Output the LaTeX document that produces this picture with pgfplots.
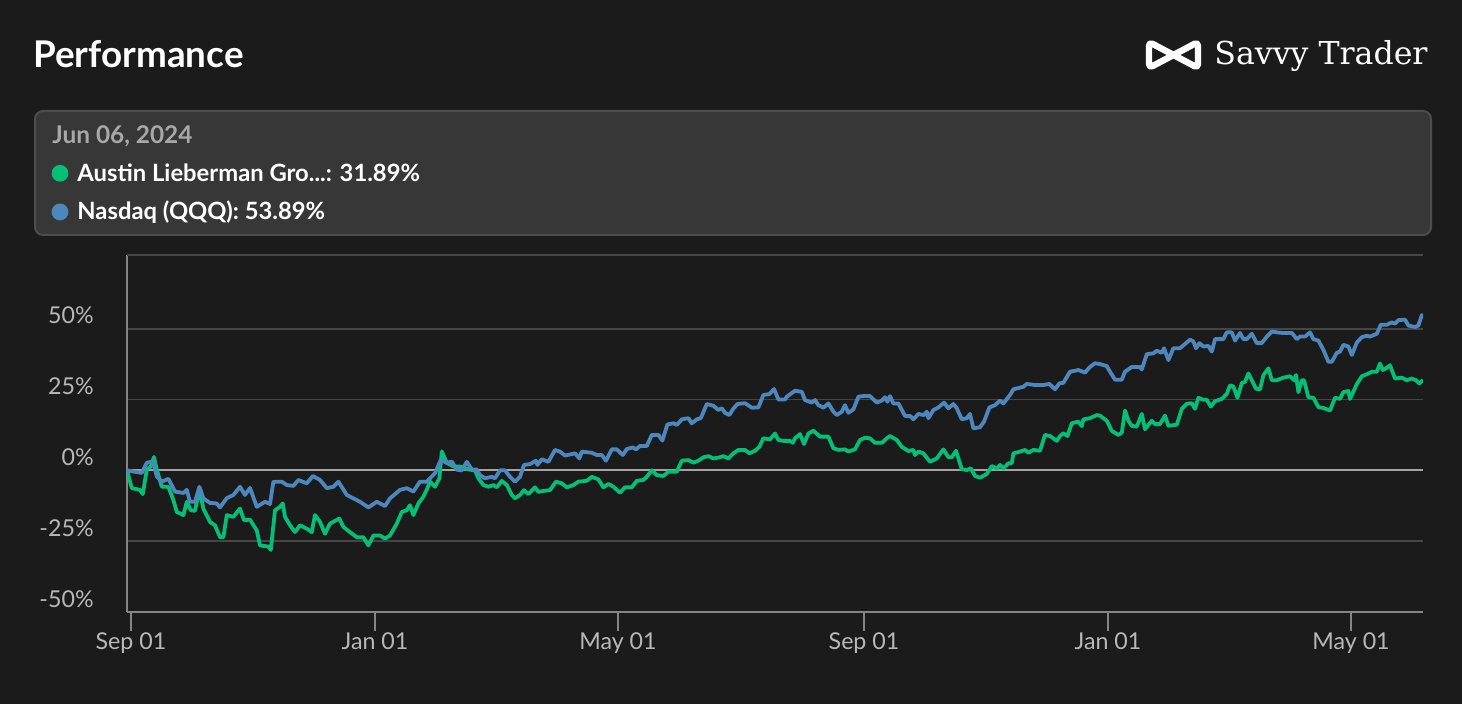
\documentclass[border=0pt]{standalone}
\usepackage{fontspec}
\setmainfont{Lato}
\newfontfamily\logofont{DejaVu Serif}
\usepackage{pgfplots}
\usepackage{pgfplotstable}
\pgfplotsset{compat=1.18}
\definecolor{bg}{HTML}{1B1B1B}
\definecolor{boxfill}{HTML}{373737}
\definecolor{boxline}{HTML}{4D4D4D}
\definecolor{gridc}{HTML}{464646}
\definecolor{zeroc}{HTML}{A3A3A3}
\definecolor{axisc}{HTML}{858585}
\definecolor{tickc}{HTML}{B8B8B8}
\definecolor{datec}{HTML}{A8A8A8}
\definecolor{greenc}{HTML}{05BE78}
\definecolor{bluec}{HTML}{4C88BE}

\pgfplotstableread{
x y
-2 0
0.4 -6.3
4.5 -6.9
5.9 -8.4
7.9 0.2
9.9 1.4
11.5 4.7
12.9 0.2
15.4 -5.8
18.7 -5.8
21.2 -10.5
22.9 -14.7
26.2 -15.8
27.9 -11.1
29.9 -14.1
32 -14.3
34.2 -6.9
36.2 -13.5
39.5 -18.2
42 -19.4
44.5 -23.6
46.2 -23.6
47.9 -15.8
51.2 -16.4
54.5 -13.5
56.5 -17.6
59.5 -17.4
62.9 -21.2
64.5 -26.5
68.7 -26.9
69.9 -28.1
72 -14.1
74.5 -12.9
75.9 -11.7
77 -16.4
79.5 -19.4
82 -21.8
84.5 -19.4
87.9 -20.6
90.4 -21.8
92 -15.8
94.5 -18.2
97 -22.4
99.5 -18.8
104.2 -17.0
106.2 -20.0
109.5 -21.8
112.9 -23.6
116.2 -23.6
118.7 -26.5
121.2 -23.0
124.5 -23.0
127 -24.1
129.5 -23.0
132.9 -18.8
135.4 -14.7
137.9 -14.1
139.5 -12.3
141.2 -15.8
143.7 -11.7
146.2 -9.3
147.9 -6.9
149.5 -4.0
152 -5.8
154.2 -2.8
155.4 6.7
157.9 2.6
161.2 1.4
164.5 1.3
168.7 0.3
172 0
173.7 -2.8
176.2 -5.2
178.7 -5.8
181.2 -5.2
182.9 -6
185.4 -3.7
187.9 -5.2
190.4 -8.7
192 -9.9
194.5 -8.7
196.5 -7
198.7 -8.4
202 -6
203.7 -7.6
207 -7.2
209.5 -7
212.5 -4
215.4 -4.6
217.9 -6
221.2 -5.2
223.7 -4
227.9 -3.7
230.4 -2.3
233.7 -3.2
236.2 -6
238.7 -4.8
241.2 -5.8
244.5 -7.9
247 -6
250.4 -6
252.9 -3.7
256.2 -3.4
257.9 -2.3
260.4 0
262.9 -1.7
266.2 -2
268.7 -0.5
272.9 -0.5
275.4 3.4
278.7 3.6
281.2 2.7
283.7 3.4
286.2 4.6
288.7 5
291.2 4.2
294.5 4.6
296.2 5
298.7 4.2
301.2 6
303.7 7.2
307 7.2
309.2 6
312 6.9
314.2 8.3
316.2 11.3
319.5 10.9
322 13
323.7 10.7
326.2 10.4
329.5 10.4
330.9 9.7
332 11.3
334.5 12.8
336.5 9.3
338.7 13
341.2 14
344.5 11.9
348.7 11.9
351.2 7.8
353.7 7.2
357 7.4
358.7 6.6
362 7.4
364.5 10.7
367 11.5
369.5 11.3
372 9.7
375.4 9.7
377.9 11.3
379.5 12.1
382.9 10.7
385.4 8.3
388.7 6.8
391.2 7.2
392 5.4
393.7 6.6
396.2 6
399.5 3
402.9 4.2
406.2 7.4
408.7 4.6
410.4 4.6
412.5 6.9
415.4 0.4
417.9 0.1
419.9 0.7
422 -2
424.5 -2.6
427.9 -1.3
430.4 1.5
432.9 0.7
434.5 1.9
436.2 0.7
438.7 2.5
440.4 2.5
441.2 6
444.5 6.6
447 7.2
448.7 6.2
451.2 7.2
454.5 6.9
457 12.5
459.5 12.1
462.9 10.4
464.5 12.1
466.2 13.1
468.2 12.1
470.4 16.6
473.7 17.2
475.4 15.6
476.2 18
479.5 18.4
482.9 19.5
484.5 19.3
487.9 17.5
490.4 13.9
493.7 12.5
495.4 13.3
497 21.1
498.7 17.5
500.4 15.7
502.9 15.4
505.4 19.9
507 14.5
510.4 17.5
512 16.3
514.5 16.3
517 19.3
518.7 15.7
522.9 16.1
525.4 21.7
527.9 23.5
530.4 23.7
532 21.7
533.7 25.6
536.2 24.9
537.9 24.9
539.9 22.5
542 24.4
545.4 25.2
547.9 27
549.5 30
551.2 29.6
553.2 25.6
555.4 30.8
557 31.2
558.7 34.2
560.4 31.8
562.5 28.8
564.5 28.5
566.2 33.6
568.7 36
570.4 31.8
572.9 31.8
576.2 32.7
579.5 33.2
581.5 31.8
582.5 33.6
583.7 27.6
585.4 31.8
586.5 31.8
588.7 25.8
591.2 25.6
593.7 22.3
596.2 22
599.5 21.1
602 25.6
604.5 25.2
606.2 27.6
608.7 28
609.5 25.2
612.9 30.4
615.4 33.2
617.9 33.9
620.4 34.8
622.9 34.8
624.5 37.7
625.9 35.4
627.5 36
629.5 37.1
632 32.4
635.4 32.7
637.9 31.8
640.4 32.4
642.5 31.8
644.2 30.6
646 31.89
}\greendata

\pgfplotstableread{
x y
-2 0
1 -0.4
5.4 -0.9
7.9 2.7
11 3.1
12.9 -2.2
15.4 -4.0
18.7 -3.0
22 -7.5
26.2 -8.0
27.9 -6.9
29.5 -11.1
32 -11.1
34.2 -5.8
36.2 -9.9
39.5 -11.5
42.9 -11.7
44.5 -13.1
47.9 -9.8
51.2 -8.7
54.5 -5.8
57 -8.7
59.5 -6.2
62.9 -12.9
67 -11.1
69.5 -11.9
71.2 -4.0
75.4 -4.0
77.9 -5.2
81.2 -5.5
83.7 -3.4
87.9 -4.6
90.9 -2.0
94.5 -3.4
97.9 -6.3
101.2 -5.8
103.7 -4.0
107.9 -8.7
111.2 -9.9
114.5 -11.1
118.7 -13.1
122.9 -11.1
127 -12.6
129.5 -9.9
134.5 -6.9
137.9 -6.3
141.2 -7.5
144.5 -4.0
147.9 -4.0
152 -1.0
154.9 3.7
157.9 2.6
160.4 3.1
162.9 0.2
165.4 0
167.9 3.0
170.4 0.3
172.9 0.3
174.5 -1.7
177 -2.8
180.4 -2.3
182 -2.8
184.5 0
187 0
189.5 -2.3
192 -4
194.5 -2.3
196.5 1.9
199.5 2.2
202.5 3.4
203.2 1.9
205.4 3.9
208.7 3
212 7.2
214.5 6.6
217 5.2
222 6
224.2 4.2
225.4 6.6
230.4 6.2
232.9 5.4
235.4 5.4
237.5 3.4
240.4 7.4
242.9 7.4
245.9 5.4
247.9 7.5
250.9 8.1
252.5 7.4
254.5 8.6
257.9 8.6
260.4 12.5
263.7 12.5
265.7 10.5
268.2 16.2
271.2 16.6
272.9 16
275.4 18
278.7 18.4
280.4 16.6
282.9 18
284.9 18.4
287.9 23.4
291.2 22.8
293.7 21.3
295.4 21.9
297 20.3
299.2 19.5
300.9 21.5
303.2 23.4
307 23.7
310.4 22.1
313.7 22.2
316.2 26.6
319.2 26.9
321.5 28.7
323.7 25
327 25
327.9 26
332 28.1
335.4 27.7
337 24.8
340.4 23.9
342 24.8
343.7 23
346.2 22.1
348.7 23.6
351.2 20.7
352.9 19.5
355.4 20.7
357 23
358.7 20.3
361.2 21.5
363.7 26
366.2 26.2
369.5 26.2
372.9 23.9
375.4 24.6
377 25.8
378.2 24.2
379.5 26.2
381.2 23.6
383.7 23.6
387 19.2
389.5 19.2
391.2 18
393.7 19.9
396.5 19.5
397.9 20.7
398.7 18.4
401.2 21.3
403.7 22.2
406.5 23.9
408.7 21.9
411.2 23.4
412.9 21.9
415.4 18
417.9 18.4
419.5 19.9
421.2 14.8
424.5 15.2
426.5 17.2
429.2 22.2
432 23
434.5 24.6
436.2 23.6
439.5 26.6
441.2 28.6
446.2 29.5
447.9 30.5
452 30.1
456.2 30.1
459.2 30.5
462 28.6
464.2 30.7
466.2 30.9
469.5 34.8
473.7 35.4
477 34.5
479.5 36.5
482 37.8
484.5 37.5
487.9 36.8
489.5 34.8
492 32
495.4 32
497 34.8
500.4 36.5
504.5 36.5
505.4 35.6
507.9 41
511.2 41.3
512.9 42.2
515.4 41.5
516.5 43.1
518.7 38.9
521.2 43.1
524.5 43.1
527 44.6
529.5 46.1
531.2 45.5
532.5 43.1
534.2 44.9
536.2 43.7
538.7 43.9
540.4 41.9
542 46.3
546.2 46.3
547.9 48.7
550.4 48.7
552 45.8
554.5 48.5
556.2 46.3
557.9 46.3
560.4 48.2
562.9 44.9
565.4 44.9
567.9 47.2
570.4 49
572.9 48.7
575.4 48.5
580.4 48.5
582.9 46.3
584.5 47.2
587 47.2
589.5 48.7
591.2 46.3
593.7 45.8
596.2 42.5
598.7 38.3
600.4 38.3
602.9 41.5
604.5 41.9
606.2 44.3
608.7 43.7
610.4 40.7
612.9 45.1
615.4 47
617.9 47.5
619.5 47.2
622.9 48.2
624.9 51.4
627.9 51.4
630.4 52.2
632 51.8
633.7 53
637 53.2
638.7 51.1
642 50.6
643.7 51.1
645.4 54.8
646 53.89
}\bluedata

\begin{document}
\begin{tikzpicture}
% background
\fill[bg] (0,0) rectangle (731pt,352pt);
% title
\node[anchor=base west, inner sep=0pt, text=white, font=\fontsize{18.4}{21}\selectfont\bfseries] at (16.5pt,318pt) {Performance};
% logo
\draw[white, line width=3.2pt, line join=round, rounded corners=2pt] (574.5pt,331pt) -- (599pt,318pt) -- (599pt,331pt) -- (574.5pt,318pt) -- cycle;
\node[anchor=base east, inner sep=0pt, text=white, font=\logofont\fontsize{15.8}{18}\selectfont] at (714pt,319.8pt) {Savvy Trader};
% tooltip
\draw[fill=boxfill, draw=boxline, line width=1pt, rounded corners=4pt] (17.5pt,234.5pt) rectangle (715.5pt,296.5pt);
\node[anchor=base west, inner sep=0pt, text=datec, font=\fontsize{12.2}{14}\selectfont\bfseries] at (26pt,280pt) {Jun 06, 2024};
\fill[greenc] (30pt,265.35pt) circle (4.2pt);
\node[anchor=base west, inner sep=0pt, text=white, font=\fontsize{11.9}{14}\selectfont\bfseries] at (38.5pt,261.15pt) {Austin Lieberman Gro...: 31.89\%};
\fill[bluec] (30pt,246pt) circle (4.2pt);
\node[anchor=base west, inner sep=0pt, text=white, font=\fontsize{11.9}{14}\selectfont\bfseries] at (38.5pt,242pt) {Nasdaq (QQQ): 53.89\%};

\begin{axis}[
  at={(63.5pt,46pt)}, anchor=south west,
  scale only axis, width=648pt, height=178.5pt,
  xmin=-2, xmax=646, ymin=-50, ymax=76,
  axis x line*=bottom, axis y line*=left,
  axis line style={axisc, line width=1pt, -},
  xtick={0,122,243.5,366.5,488.5,610},
  xticklabels={Sep 01,Jan 01,May 01,Sep 01,Jan 01,May 01},
  ytick={-50,-25,0,25,50},
  yticklabels={-50\%,-25\%,0\%,25\%,50\%},
  ymajorgrids, grid style={gridc, line width=0.9pt},
  extra y ticks={0}, extra y tick labels={},
  extra y tick style={grid style={zeroc, line width=1pt}},
  tick align=outside, major tick length=9.5pt,
  xtick style={axisc, line width=1pt},
  ytick style={draw=none},
  ticklabel style={text=tickc, font=\fontsize{11.6}{13}\selectfont},
  xticklabel style={anchor=base, inner sep=0pt, yshift=-9.5pt},
  yticklabel style={anchor=base east, inner sep=0pt, xshift=-7pt, yshift=2.4pt},
  clip=true,
]
\draw[gridc, line width=0.9pt] (rel axis cs:0,1) -- (rel axis cs:1,1);
\addplot[greenc, line width=1.9pt, line join=round, no marks] table[x=x,y=y] {\greendata};
\addplot[bluec, line width=1.9pt, line join=round, no marks] table[x=x,y=y] {\bluedata};
\end{axis}
\pgfresetboundingbox
\useasboundingbox (0,0) rectangle (731pt,352pt);
\end{tikzpicture}
\end{document}
